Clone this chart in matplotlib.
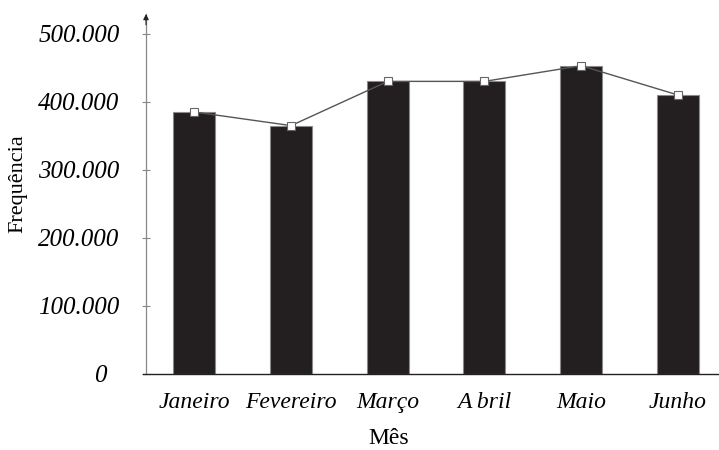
import matplotlib
matplotlib.use("Agg")
import matplotlib.pyplot as plt
import matplotlib.transforms as mtransforms

# Monthly frequency values
meses = ["Janeiro", "Fevereiro", "Março", "A bril", "Maio", "Junho"]
frequencia = [385000, 365000, 430000, 430000, 453000, 410000]
yticks = [0, 100000, 200000, 300000, 400000, 500000]
ytick_labels = ["0", "100.000", "200.000", "300.000", "400.000", "500.000"]

plt.rcParams["font.family"] = ["Liberation Serif", "DejaVu Serif"]

fig = plt.figure(figsize=(7.19, 4.5), dpi=100)
ax = fig.add_axes([146 / 719, 1 - 374 / 450, (718 - 146) / 719, (374 - 14) / 450])

x = list(range(len(meses)))
ax.bar(x, frequencia, width=0.434, color="#231f20", edgecolor="#8a8a8a",
       linewidth=0.8, zorder=2)
ax.plot(x, frequencia, color="#555555", linewidth=1.0, marker="s",
        markersize=6, markerfacecolor="white", markeredgecolor="#666666",
        markeredgewidth=0.8, zorder=3)

ax.set_xlim(-0.5, 5.415)
ax.set_ylim(0, 529000)

ax.set_yticks(yticks)
ax.set_yticklabels(ytick_labels, fontsize=18, style="italic")
ax.tick_params(axis="y", direction="inout", length=6, width=0.8,
               color="#888888", pad=16)
ax.set_xticks(x)
ax.set_xticklabels(meses, fontsize=17, style="italic")
ax.tick_params(axis="x", length=0, pad=13)

# The zero label sits a little further left than the others
zero_label = ax.get_yticklabels()[0]
zero_label.set_transform(zero_label.get_transform() +
                         mtransforms.ScaledTranslation(-13 / 100, 0, fig.dpi_scale_trans))

for s in ("top", "right"):
    ax.spines[s].set_visible(False)
ax.spines["left"].set_color("#888888")
ax.spines["left"].set_linewidth(0.9)
ax.spines["bottom"].set_color("#222222")
ax.spines["bottom"].set_linewidth(1.0)
ax.spines["bottom"].set_bounds(-0.535, 5.415)

# Arrow head at the top of the value axis
ax.annotate("", xy=(-0.5, 1.0), xycoords=("data", "axes fraction"),
            xytext=(-0.5, 0.97), textcoords=("data", "axes fraction"),
            arrowprops=dict(arrowstyle="-|>", color="#222222", lw=0.8,
                            mutation_scale=8, shrinkA=0, shrinkB=0))

fig.text(389 / 719, 1 - 438 / 450, "Mês", fontsize=17, ha="center", va="center")
fig.text(18 / 719, 1 - 184 / 450, "Frequência", fontsize=16, ha="center",
         va="center", rotation=90)

fig.savefig("out.png", dpi=100)
